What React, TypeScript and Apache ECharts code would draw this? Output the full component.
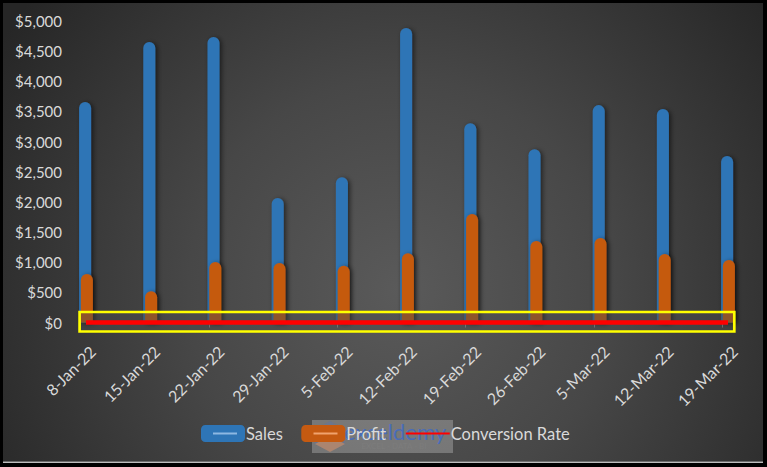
import React, { useEffect, useRef } from "react";
import * as echarts from "echarts";

const categories = [
  "8-Jan-22", "15-Jan-22", "22-Jan-22", "29-Jan-22", "5-Feb-22", "12-Feb-22",
  "19-Feb-22", "26-Feb-22", "5-Mar-22", "12-Mar-22", "19-Mar-22",
];
const sales = [3655, 4650, 4735, 2065, 2410, 4885, 3305, 2875, 3605, 3540, 2760];
const profit = [805, 520, 1005, 985, 940, 1150, 1800, 1350, 1400, 1135, 1035];
const conversionRate = [0.032, 0.028, 0.035, 0.041, 0.03, 0.036, 0.045, 0.038, 0.033, 0.029, 0.034];
const yMin = 0;
const yMax = 5000;
const yStep = 500;

const FONT = "Lato";

function money(v: number) {
  return "$" + String(v).replace(/\B(?=(\d{3})+(?!\d))/g, ",");
}

export default function App() {
  const ref = useRef<HTMLDivElement>(null);
  useEffect(() => {
    if (!ref.current) return;
    const chart = echarts.init(ref.current, undefined, { renderer: "svg" });
    const barShadow = {
      shadowBlur: 5,
      shadowColor: "rgba(0,0,0,0.55)",
      shadowOffsetX: 2,
      shadowOffsetY: 1,
    };
    chart.setOption({
      animation: false,
      backgroundColor: "#000000",
      grid: [
        { left: 80.5, right: 44.5, top: 21, bottom: 144.5 },
        { left: 86, right: 39, top: 21, bottom: 144.5 },
        { left: 92.5, right: 32.5, top: 21, bottom: 144.5 },
      ],
      xAxis: [
        {
          type: "category",
          gridIndex: 0,
          data: categories,
          boundaryGap: false,
          axisLine: { show: false },
          axisTick: { show: true, length: 5, lineStyle: { color: "rgba(200,200,200,0.6)", width: 1 } },
          axisLabel: { show: false },
          splitLine: { show: false },
        },
        {
          type: "category",
          gridIndex: 1,
          data: categories,
          boundaryGap: false,
          show: false,
        },
        {
          type: "category",
          gridIndex: 2,
          data: categories,
          boundaryGap: false,
          axisLine: { show: false },
          axisTick: { show: false },
          splitLine: { show: false },
          axisLabel: {
            rotate: 45,
            margin: 26,
            color: "#d9d9d9",
            fontSize: 16,
            fontFamily: FONT,
            interval: 0,
          },
        },
      ],
      yAxis: [
        {
          type: "value",
          gridIndex: 0,
          min: yMin,
          max: yMax,
          interval: yStep,
          axisLine: { show: false },
          axisTick: { show: false },
          splitLine: { show: false },
          axisLabel: {
            margin: 18.5,
            color: "#d9d9d9",
            fontSize: 15,
            fontFamily: FONT,
            formatter: (v: number) => money(v),
          },
        },
        {
          type: "value",
          gridIndex: 1,
          min: yMin,
          max: yMax,
          interval: yStep,
          show: false,
        },
        {
          type: "value",
          gridIndex: 2,
          min: yMin,
          max: yMax,
          interval: yStep,
          show: false,
        },
      ],
      legend: {
        left: 201,
        top: 425,
        padding: 0,
        itemWidth: 44,
        itemHeight: 17,
        itemGap: 18.5,
        textStyle: { color: "#d9d9d9", fontSize: 16.5, fontFamily: FONT, padding: [0, 0, 0, -4] },
        itemStyle: { shadowBlur: 0, shadowOffsetX: 0, shadowOffsetY: 0 },
        data: [
          { name: "Sales", icon: "roundRect" },
          { name: "Profit", icon: "roundRect" },
          { name: "Conversion Rate", itemStyle: { opacity: 0 } },
        ],
      },
      series: [
        {
          name: "Sales",
          type: "bar",
          xAxisIndex: 1,
          yAxisIndex: 1,
          data: sales,
          barWidth: 12,
          barGap: "-85%",
          clip: false,
          itemStyle: { color: "#2E75B6", borderRadius: [6, 6, 0, 0], ...barShadow },
          z: 2,
        },
        {
          name: "Profit",
          type: "bar",
          xAxisIndex: 1,
          yAxisIndex: 1,
          data: profit,
          barWidth: 12,
          barGap: "-85%",
          clip: false,
          itemStyle: { color: "#C55A11", borderRadius: [6, 6, 0, 0], ...barShadow },
          z: 2,
        },
        {
          name: "Conversion Rate",
          type: "line",
          xAxisIndex: 1,
          yAxisIndex: 1,
          data: conversionRate,
          symbol: "none",
          showSymbol: false,
          clip: false,
          lineStyle: { color: "#FF0000", width: 4.5 },
          itemStyle: { color: "#FF0000" },
          z: 10,
        },
      ],
      graphic: [
        {
          type: "rect",
          z: -10,
          silent: true,
          shape: { x: 3, y: 3, width: 760, height: 458.5 },
          style: {
            fill: {
              type: "radial",
              x: 400,
              y: 290,
              r: 470,
              global: true,
              colorStops: [
                { offset: 0, color: "#5a5a5a" },
                { offset: 0.45, color: "#474747" },
                { offset: 1, color: "#262626" },
              ],
            },
          },
        },
        {
          type: "rect",
          z: -9,
          silent: true,
          shape: { x: 3, y: 461.5, width: 760, height: 1.5 },
          style: { fill: "#bdbdbd" },
        },
        {
          type: "rect",
          z: 3,
          silent: true,
          shape: { x: 79.6, y: 312, width: 654.7, height: 19.5 },
          style: { fill: "rgba(78,78,78,0.45)", stroke: "#FFFF00", lineWidth: 2.7 },
        },
        {
          type: "line",
          z: 100,
          silent: true,
          shape: { x1: 213, y1: 433.5, x2: 237, y2: 433.5 },
          style: { stroke: "#8db8e2", lineWidth: 2 },
        },
        {
          type: "line",
          z: 100,
          silent: true,
          shape: { x1: 313.5, y1: 433.5, x2: 337.5, y2: 433.5 },
          style: { stroke: "#f0a36e", lineWidth: 2 },
        },
        {
          type: "group",
          z: 200,
          silent: true,
          children: [
            {
              type: "rect",
              shape: { x: 312, y: 420, width: 141, height: 33 },
              style: { fill: "rgba(205,205,205,0.34)" },
            },
            {
              type: "polygon",
              shape: { points: [[330, 421], [345, 429], [345, 444], [330, 452], [315, 444], [315, 429]] },
              style: { fill: "rgba(95,115,160,0.5)" },
            },
            {
              type: "polygon",
              shape: { points: [[330, 436], [345, 444], [330, 452], [315, 444]] },
              style: { fill: "rgba(235,150,85,0.5)" },
            },
            {
              type: "text",
              style: {
                x: 344,
                y: 431,
                text: "exceldemy",
                fontSize: 22,
                fontFamily: FONT,
                fill: "rgba(70,108,190,0.95)",
                verticalAlign: "middle",
              },
            },
            {
              type: "text",
              style: {
                x: 394,
                y: 446,
                text: "EXCEL - DATA - BI",
                fontSize: 8,
                fontFamily: FONT,
                fill: "rgba(125,125,125,0.95)",
                align: "center",
                verticalAlign: "middle",
              },
            },
          ],
        },
      ],
    });
    return () => chart.dispose();
  }, []);
  return (
    <div
      ref={ref}
      style={{ position: "fixed", left: 0, top: 0, width: 767, height: 467 }}
    />
  );
}
